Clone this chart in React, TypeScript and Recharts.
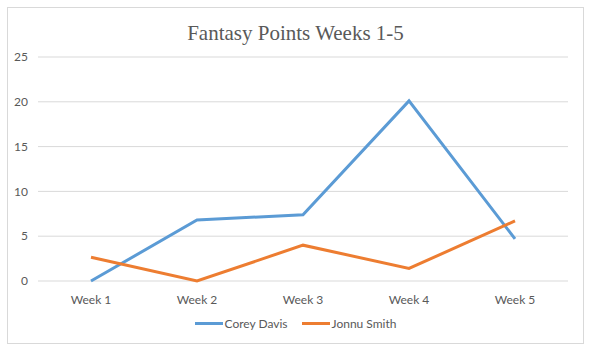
import React from "react";
import { LineChart, Line, XAxis, YAxis, CartesianGrid, Legend } from "recharts";

const weeks = ["Week 1", "Week 2", "Week 3", "Week 4", "Week 5"];
const coreyDavis = [0, 6.8, 7.4, 20.1, 4.7];
const jonnuSmith = [2.65, 0, 4.0, 1.4, 6.7];
const yTicks = [0, 5, 10, 15, 20, 25];

const data = weeks.map((w, i) => ({ week: w, corey: coreyDavis[i], jonnu: jonnuSmith[i] }));

const FONT = "Lato, 'Open Sans', sans-serif";

const renderLegend = (props: any) => {
  const { payload } = props;
  return (
    <div style={{ display: "flex", justifyContent: "center", alignItems: "center", fontFamily: FONT, fontSize: 12, color: "#595959" }}>
      {payload.map((p: any, i: number) => (
        <div key={i} style={{ display: "flex", alignItems: "center", marginRight: i === 0 ? 14 : 0 }}>
          <div style={{ width: 28, height: 3, background: p.color, marginRight: 2 }} />
          <span>{p.value}</span>
        </div>
      ))}
    </div>
  );
};

export default function App() {
  return (
    <div style={{ position: "absolute", left: 7, top: 7, width: 575, height: 335, border: "1px solid #d9d9d9", background: "#fff" }}>
      <div style={{ position: "absolute", left: 0, top: 13, width: 575, textAlign: "center", fontFamily: "'Liberation Serif', 'Times New Roman', serif", fontSize: 21, color: "#595959" }}>
        Fantasy Points Weeks 1-5
      </div>
      <LineChart width={575} height={335} data={data} margin={{ top: 49, right: 15, bottom: 32, left: 0 }}>
        <CartesianGrid vertical={false} stroke="#d9d9d9" strokeWidth={1} />
        <XAxis
          dataKey="week"
          padding={{ left: 53, right: 53 }}
          axisLine={false}
          tickLine={false}
          tick={{ fill: "#595959", fontSize: 12, fontFamily: FONT }}
          tickMargin={8}
          height={30}
          interval={0}
        />
        <YAxis
          domain={[0, 25]}
          ticks={yTicks}
          axisLine={false}
          tickLine={false}
          tickSize={0}
          tickMargin={10}
          width={30}
          tick={{ fill: "#595959", fontSize: 12, fontFamily: FONT }}
        />
        <Legend
          verticalAlign="middle"
          align="center"
          layout="horizontal"
          content={renderLegend}
          wrapperStyle={{ top: 308, left: 0, width: 575 }}
        />
        <Line type="linear" dataKey="corey" name="Corey Davis" stroke="#5b9bd5" strokeWidth={3} dot={false} isAnimationActive={false} />
        <Line type="linear" dataKey="jonnu" name="Jonnu Smith" stroke="#ed7d31" strokeWidth={3} dot={false} isAnimationActive={false} />
      </LineChart>
    </div>
  );
}
